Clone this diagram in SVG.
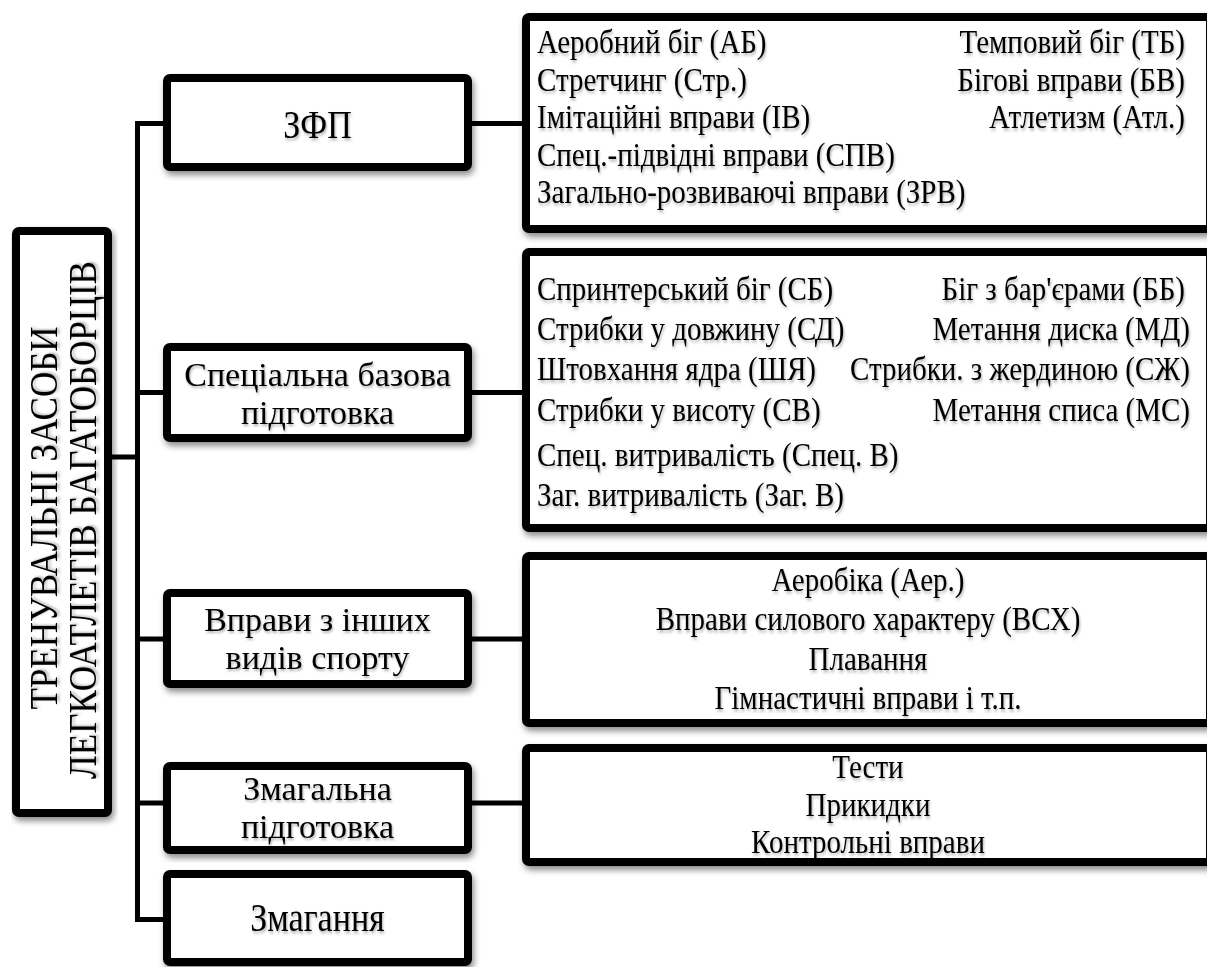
<svg xmlns="http://www.w3.org/2000/svg" width="1207" height="967" viewBox="0 0 1207 967">
<defs>
<filter id="sh" x="-5%" y="-5%" width="115%" height="120%">
<feDropShadow dx="2" dy="4" stdDeviation="3" flood-color="#000" flood-opacity="0.45"/>
</filter>
<filter id="tsh" x="-5%" y="-20%" width="110%" height="150%">
<feDropShadow dx="1" dy="2" stdDeviation="1.2" flood-color="#000" flood-opacity="0.3"/>
</filter>
</defs>
<style>
.box{fill:#fff;stroke:#000;stroke-width:8;filter:url(#sh)}
.ln{fill:none;stroke:#000;stroke-width:5}
text{font-family:"Liberation Serif","Times New Roman",serif;fill:#000;filter:url(#tsh)}
.n{font-size:34px;text-anchor:middle}
.r{font-size:29px}
.e{text-anchor:end}
.m{text-anchor:middle}
.v{font-size:35px;text-anchor:middle}
</style>
<g id="connectors">
<polyline class="ln" points="167,123.5 137.5,123.5 137.5,919.5 167,919.5"/>
<line class="ln" x1="108" y1="457" x2="137.5" y2="457"/>
<line class="ln" x1="137.5" y1="392.5" x2="167" y2="392.5"/>
<line class="ln" x1="137.5" y1="639" x2="167" y2="639"/>
<line class="ln" x1="137.5" y1="803" x2="167" y2="803"/>
<line class="ln" x1="468" y1="123.5" x2="526" y2="123.5"/>
<line class="ln" x1="468" y1="392.5" x2="526" y2="392.5"/>
<line class="ln" x1="468" y1="639" x2="526" y2="639"/>
<line class="ln" x1="468" y1="803" x2="526" y2="803"/>
</g>
<g id="root">
<rect class="box" x="16" y="231" width="92" height="582" rx="3"/>
<text class="v" transform="translate(57,518) rotate(-90) scale(1,1.15)">ТРЕНУВАЛЬНІ ЗАСОБИ</text>
<text class="v" transform="translate(96,520) rotate(-90) scale(1,1.15)">ЛЕГКОАТЛЕТІВ БАГАТОБОРЦІВ</text>
</g>
<g id="zfp">
<rect class="box" x="167" y="78" width="301" height="89" rx="3"/>
<text class="n" transform="translate(317.5,138) scale(1,1.15)">ЗФП</text>
</g>
<g id="special">
<rect class="box" x="167" y="347" width="301" height="91" rx="3"/>
<text class="n" x="317.5" y="386">Спеціальна базова</text>
<text class="n" x="317.5" y="424">підготовка</text>
</g>
<g id="other">
<rect class="box" x="167" y="593" width="301" height="91" rx="3"/>
<text class="n" x="317.5" y="630.5">Вправи з інших</text>
<text class="n" x="317.5" y="668.5">видів спорту</text>
</g>
<g id="compprep">
<rect class="box" x="167" y="766" width="301" height="84" rx="3"/>
<text class="n" x="317.5" y="800">Змагальна</text>
<text class="n" x="317.5" y="838">підготовка</text>
</g>
<g id="comp">
<rect class="box" x="167" y="874" width="301" height="88" rx="3"/>
<text class="n" transform="translate(317.5,931) scale(1,1.15)">Змагання</text>
</g>
<g id="zfp-list">
<rect class="box" x="526" y="17" width="684" height="212" rx="3"/>
<text class="r" transform="translate(537,52.5) scale(1,1.15)">Аеробний біг (АБ)</text>
<text class="r e" transform="translate(1185,52.5) scale(1,1.15)">Темповий біг (ТБ)</text>
<text class="r" transform="translate(537,90.5) scale(1,1.15)">Стретчинг (Стр.)</text>
<text class="r e" transform="translate(1185,90.5) scale(1,1.15)">Бігові вправи (БВ)</text>
<text class="r" transform="translate(537,127.5) scale(1,1.15)">Імітаційні вправи (ІВ)</text>
<text class="r e" transform="translate(1185,127.5) scale(1,1.15)">Атлетизм (Атл.)</text>
<text class="r" transform="translate(537,165.5) scale(1,1.15)">Спец.-підвідні вправи (СПВ)</text>
<text class="r" transform="translate(537,202.5) scale(1,1.15)">Загально-розвиваючі вправи (ЗРВ)</text>
</g>
<g id="special-list">
<rect class="box" x="526" y="252" width="684" height="276" rx="3"/>
<text class="r" transform="translate(537,299.5) scale(1,1.15)">Спринтерський біг (СБ)</text>
<text class="r e" transform="translate(1185,299.5) scale(1,1.15)">Біг з бар'єрами (ББ)</text>
<text class="r" transform="translate(537,339.5) scale(1,1.15)">Стрибки у довжину (СД)</text>
<text class="r e" transform="translate(1190,339.5) scale(1,1.15)">Метання диска (МД)</text>
<text class="r" transform="translate(537,379.5) scale(1,1.15)">Штовхання ядра (ШЯ)</text>
<text class="r e" transform="translate(1190,379.5) scale(1,1.15)">Стрибки. з жердиною (СЖ)</text>
<text class="r" transform="translate(537,420.5) scale(1,1.15)">Стрибки у висоту (СВ)</text>
<text class="r e" transform="translate(1190,420.5) scale(1,1.15)">Метання списа (МС)</text>
<text class="r" transform="translate(537,465.5) scale(1,1.15)">Спец. витривалість (Спец. В)</text>
<text class="r" transform="translate(537,505.5) scale(1,1.15)">Заг. витривалість (Заг. В)</text>
</g>
<g id="other-list">
<rect class="box" x="526" y="556" width="684" height="167" rx="3"/>
<text class="r m" transform="translate(868,590.5) scale(1,1.15)">Аеробіка (Аер.)</text>
<text class="r m" transform="translate(868,629.5) scale(1,1.15)">Вправи силового характеру (ВСХ)</text>
<text class="r m" transform="translate(868,669.5) scale(1,1.15)">Плавання</text>
<text class="r m" transform="translate(868,708.5) scale(1,1.15)">Гімнастичні вправи і т.п.</text>
</g>
<g id="comp-list">
<rect class="box" x="526" y="748" width="684" height="114" rx="3"/>
<text class="r m" transform="translate(868,778) scale(1,1.15)">Тести</text>
<text class="r m" transform="translate(868,815.5) scale(1,1.15)">Прикидки</text>
<text class="r m" transform="translate(868,852.5) scale(1,1.15)">Контрольні вправи</text>
</g>
</svg>
